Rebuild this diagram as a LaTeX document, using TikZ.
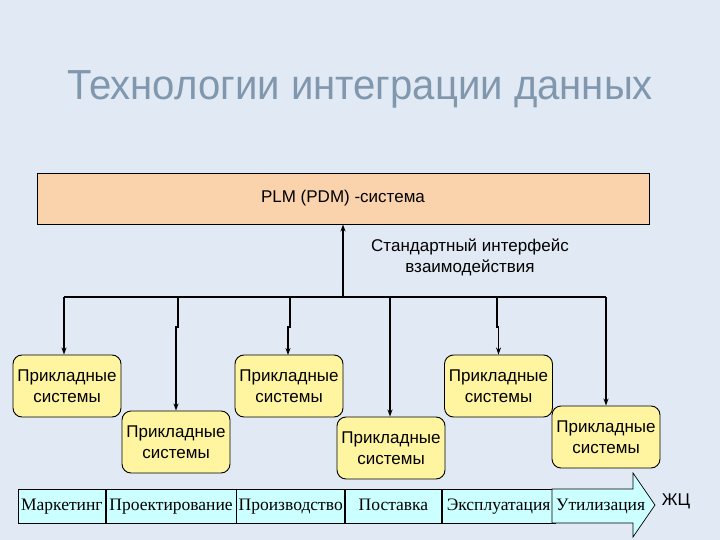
\documentclass[tikz,border=0pt]{standalone}
\usepackage{fontspec}
\setmainfont{Liberation Serif}
\setsansfont{Liberation Sans}
\usetikzlibrary{arrows.meta}
\definecolor{bg}{RGB}{225,234,244}
\definecolor{titlecol}{RGB}{128,151,174}
\definecolor{peach}{RGB}{250,211,172}
\definecolor{appyellow}{RGB}{255,245,160}
\definecolor{stagecyan}{RGB}{204,255,255}
\tikzset{
  appbox/.style={draw=black, line width=0.9pt, fill=appyellow, rounded corners=9pt,
    minimum width=108pt, minimum height=62pt, inner sep=0pt, align=center,
    font=\sffamily\fontsize{17}{21}\selectfont},
  stage/.style={draw=black, line width=0.7pt, fill=stagecyan, minimum height=34pt,
    inner sep=0pt, anchor=west, text height=12pt, text depth=4pt,
    font=\fontsize{17.5}{20}\selectfont},
  bus/.style={line width=1.1pt},
  drop/.style={line width=1.1pt, -{Stealth[length=7pt,width=5pt]}},
}
\begin{document}
\begin{tikzpicture}[x=1pt,y=-1pt]
\fill[bg] (0,0) rectangle (720,540);
\useasboundingbox (0,0) rectangle (720,540);
% title
\node[text=titlecol, font=\sffamily\fontsize{42}{48}\selectfont, xscale=0.955] (title) at (360,89) {Технологии интеграции данных};
% PLM box
\node[draw=black, line width=0.9pt, fill=peach, minimum width=612pt, minimum height=51pt,
  inner sep=0pt, font=\sffamily\fontsize{17}{20}\selectfont] (plm) at (343,198.5) {PLM (PDM) -система};
\node[align=center, font=\sffamily\fontsize{17}{21}\selectfont] (iface) at (470,257) {Стандартный интерфейс\\взаимодействия};
% application boxes
\node[appbox] (b1) at (67,386) {Прикладные\\системы};
\node[appbox] (b2) at (176,442) {Прикладные\\системы};
\node[appbox] (b3) at (289,386) {Прикладные\\системы};
\node[appbox] (b4) at (391,448) {Прикладные\\системы};
\node[appbox] (b5) at (498.5,386) {Прикладные\\системы};
\node[appbox] (b6) at (606,437) {Прикладные\\системы};
% bus
\coordinate (busL) at (64,297);
\coordinate (busR) at (606,297);
\coordinate (hub) at (343,297);
\coordinate (hub2) at (390,297);
\draw[bus] (busL) -- (busR);
\draw[line width=1.8pt, -{Stealth[length=7pt,width=5pt]}] (hub) -- (hub |- plm.south);
\draw[line width=1.8pt] (hub) -- (hub2);
\draw[drop] (busL) -- (busL |- b1.north);
\draw[drop] (178,297) -- (178,327) -- (176,327) -- (b2.north);
\draw[drop] (290,297) -- (290,327) -- (288,327) -- (288,355);
\draw[drop, line width=1.8pt] (hub2) -- (hub2 |- b4.north);
\draw[drop] (497,297) -- (497,327) -- (498.5,327) -- (b5.north);
\draw[drop] (busR) -- (b6.north);
% life cycle stages
\node[stage, minimum width=87pt] (s1) at (18,506) {Маркетинг};
\node[stage, minimum width=130pt] (s2) at (s1.east) {Проектирование};
\node[stage, minimum width=108pt] (s3) at (s2.east) {Производство};
\node[stage, minimum width=96pt] (s4) at (s3.east) {Поставка};
\node[stage, minimum width=113pt] (s5) at (s4.east) {Эксплуатация};
\coordinate (u0) at (s5.east);
\draw[line width=0.7pt, fill=stagecyan] (552,489) -- (633,489) -- (633,473) -- (655,505) -- (633,537) -- (633,523) -- (552,523) -- cycle;
\node[font=\fontsize{17.5}{20}\selectfont, anchor=west, inner sep=0.5pt, text height=12pt, text depth=4pt] (s6) at (u0) {Утилизация};
\node[font=\sffamily\fontsize{17}{18}\selectfont] (zc) at (676,501) {ЖЦ};
\end{tikzpicture}
\end{document}
